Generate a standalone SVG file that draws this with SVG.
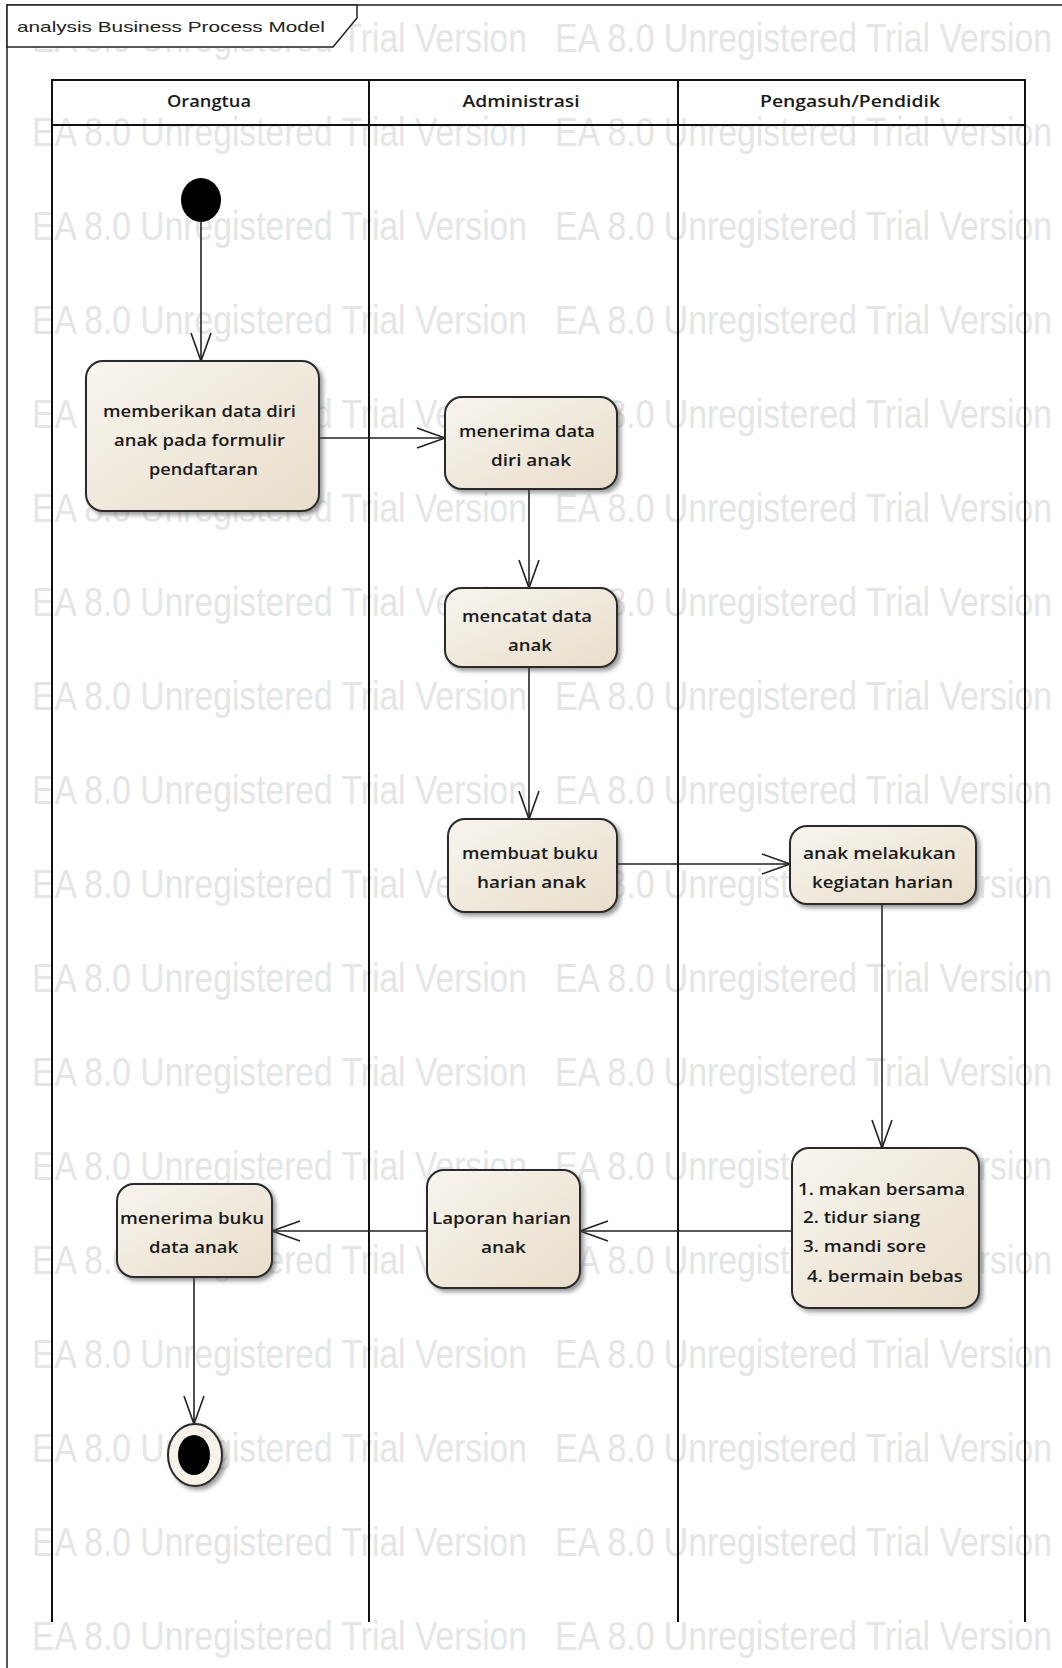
<svg xmlns="http://www.w3.org/2000/svg" width="1062" height="1668" viewBox="0 0 1062 1668">
<style>
.wm{font-family:"Liberation Sans","DejaVu Sans",sans-serif;font-size:41px;fill:#e5e5e5}
.lane{stroke:#111;stroke-width:2;fill:none}
.hdr{font-family:"Open Sans","Noto Sans",sans-serif;font-weight:600;font-size:16px;fill:#1a1a1a;text-anchor:middle}
.node rect{fill:url(#nodeGrad);stroke:#2a2a2a;stroke-width:2;filter:url(#shadow)}
.lbl{font-family:"Open Sans","Noto Sans",sans-serif;font-weight:600;font-size:17px;fill:#1a1a1a;text-anchor:middle}
.lbll{font-family:"Open Sans","Noto Sans",sans-serif;font-weight:600;font-size:17px;fill:#1a1a1a}
.conn line{stroke:#222;stroke-width:1.6;marker-end:url(#open)}
.title{font-family:"Liberation Sans","DejaVu Sans",sans-serif;font-size:15px;fill:#222}
</style>
<defs>
<linearGradient id="nodeGrad" x1="0" y1="0" x2="1" y2="1">
<stop offset="0" stop-color="#f8f5ef"/>
<stop offset="1" stop-color="#e8ddca"/>
</linearGradient>
<filter id="shadow" x="-10%" y="-10%" width="130%" height="130%">
<feDropShadow dx="3" dy="3" stdDeviation="2" flood-color="#444" flood-opacity="0.55"/>
</filter>
<marker id="open" markerUnits="userSpaceOnUse" markerWidth="34" markerHeight="26" refX="29" refY="11" orient="auto">
<path d="M1,1 L29,11 L1,21" fill="none" stroke="#222" stroke-width="1.6"/>
</marker>
</defs>
<rect width="1062" height="1668" fill="#fff"/>
<g id="watermark">
<text class="wm" x="32" y="52" textLength="495" lengthAdjust="spacingAndGlyphs">EA 8.0 Unregistered Trial Version</text>
<text class="wm" x="555" y="52" textLength="497" lengthAdjust="spacingAndGlyphs">EA 8.0 Unregistered Trial Version</text>
<text class="wm" x="32" y="146" textLength="495" lengthAdjust="spacingAndGlyphs">EA 8.0 Unregistered Trial Version</text>
<text class="wm" x="555" y="146" textLength="497" lengthAdjust="spacingAndGlyphs">EA 8.0 Unregistered Trial Version</text>
<text class="wm" x="32" y="240" textLength="495" lengthAdjust="spacingAndGlyphs">EA 8.0 Unregistered Trial Version</text>
<text class="wm" x="555" y="240" textLength="497" lengthAdjust="spacingAndGlyphs">EA 8.0 Unregistered Trial Version</text>
<text class="wm" x="32" y="334" textLength="495" lengthAdjust="spacingAndGlyphs">EA 8.0 Unregistered Trial Version</text>
<text class="wm" x="555" y="334" textLength="497" lengthAdjust="spacingAndGlyphs">EA 8.0 Unregistered Trial Version</text>
<text class="wm" x="32" y="428" textLength="495" lengthAdjust="spacingAndGlyphs">EA 8.0 Unregistered Trial Version</text>
<text class="wm" x="555" y="428" textLength="497" lengthAdjust="spacingAndGlyphs">EA 8.0 Unregistered Trial Version</text>
<text class="wm" x="32" y="522" textLength="495" lengthAdjust="spacingAndGlyphs">EA 8.0 Unregistered Trial Version</text>
<text class="wm" x="555" y="522" textLength="497" lengthAdjust="spacingAndGlyphs">EA 8.0 Unregistered Trial Version</text>
<text class="wm" x="32" y="616" textLength="495" lengthAdjust="spacingAndGlyphs">EA 8.0 Unregistered Trial Version</text>
<text class="wm" x="555" y="616" textLength="497" lengthAdjust="spacingAndGlyphs">EA 8.0 Unregistered Trial Version</text>
<text class="wm" x="32" y="710" textLength="495" lengthAdjust="spacingAndGlyphs">EA 8.0 Unregistered Trial Version</text>
<text class="wm" x="555" y="710" textLength="497" lengthAdjust="spacingAndGlyphs">EA 8.0 Unregistered Trial Version</text>
<text class="wm" x="32" y="804" textLength="495" lengthAdjust="spacingAndGlyphs">EA 8.0 Unregistered Trial Version</text>
<text class="wm" x="555" y="804" textLength="497" lengthAdjust="spacingAndGlyphs">EA 8.0 Unregistered Trial Version</text>
<text class="wm" x="32" y="898" textLength="495" lengthAdjust="spacingAndGlyphs">EA 8.0 Unregistered Trial Version</text>
<text class="wm" x="555" y="898" textLength="497" lengthAdjust="spacingAndGlyphs">EA 8.0 Unregistered Trial Version</text>
<text class="wm" x="32" y="992" textLength="495" lengthAdjust="spacingAndGlyphs">EA 8.0 Unregistered Trial Version</text>
<text class="wm" x="555" y="992" textLength="497" lengthAdjust="spacingAndGlyphs">EA 8.0 Unregistered Trial Version</text>
<text class="wm" x="32" y="1086" textLength="495" lengthAdjust="spacingAndGlyphs">EA 8.0 Unregistered Trial Version</text>
<text class="wm" x="555" y="1086" textLength="497" lengthAdjust="spacingAndGlyphs">EA 8.0 Unregistered Trial Version</text>
<text class="wm" x="32" y="1180" textLength="495" lengthAdjust="spacingAndGlyphs">EA 8.0 Unregistered Trial Version</text>
<text class="wm" x="555" y="1180" textLength="497" lengthAdjust="spacingAndGlyphs">EA 8.0 Unregistered Trial Version</text>
<text class="wm" x="32" y="1274" textLength="495" lengthAdjust="spacingAndGlyphs">EA 8.0 Unregistered Trial Version</text>
<text class="wm" x="555" y="1274" textLength="497" lengthAdjust="spacingAndGlyphs">EA 8.0 Unregistered Trial Version</text>
<text class="wm" x="32" y="1368" textLength="495" lengthAdjust="spacingAndGlyphs">EA 8.0 Unregistered Trial Version</text>
<text class="wm" x="555" y="1368" textLength="497" lengthAdjust="spacingAndGlyphs">EA 8.0 Unregistered Trial Version</text>
<text class="wm" x="32" y="1462" textLength="495" lengthAdjust="spacingAndGlyphs">EA 8.0 Unregistered Trial Version</text>
<text class="wm" x="555" y="1462" textLength="497" lengthAdjust="spacingAndGlyphs">EA 8.0 Unregistered Trial Version</text>
<text class="wm" x="32" y="1556" textLength="495" lengthAdjust="spacingAndGlyphs">EA 8.0 Unregistered Trial Version</text>
<text class="wm" x="555" y="1556" textLength="497" lengthAdjust="spacingAndGlyphs">EA 8.0 Unregistered Trial Version</text>
<text class="wm" x="32" y="1650" textLength="495" lengthAdjust="spacingAndGlyphs">EA 8.0 Unregistered Trial Version</text>
<text class="wm" x="555" y="1650" textLength="497" lengthAdjust="spacingAndGlyphs">EA 8.0 Unregistered Trial Version</text>
</g>
<g id="frame">
<path d="M7,1668 V5 H1062" fill="none" stroke="#222" stroke-width="1.5"/>
<path d="M7,5 H357 V18 L333,47 H7 Z" fill="#fff" stroke="#222" stroke-width="1.5"/>
<text class="title" x="17" y="32" textLength="308" lengthAdjust="spacingAndGlyphs">analysis Business Process Model</text>
</g>
<g id="lanes">
<path class="lane" d="M52,1622 V80 H1025 V1622 M369,80 V1622 M678,80 V1622 M52,125 H1025"/>
<text class="hdr" x="209" y="107" textLength="84" lengthAdjust="spacingAndGlyphs">Orangtua</text>
<text class="hdr" x="521" y="107" textLength="117" lengthAdjust="spacingAndGlyphs">Administrasi</text>
<text class="hdr" x="850" y="107" textLength="180" lengthAdjust="spacingAndGlyphs">Pengasuh/Pendidik</text>
</g>
<g id="connectors" class="conn">
<line x1="201" y1="222" x2="201" y2="361"/>
<line x1="319" y1="438" x2="445" y2="438"/>
<line x1="529" y1="489" x2="529" y2="588"/>
<line x1="529" y1="667" x2="529" y2="819"/>
<line x1="617" y1="864" x2="790" y2="864"/>
<line x1="882" y1="904" x2="882" y2="1148"/>
<line x1="792" y1="1231" x2="580" y2="1231"/>
<line x1="427" y1="1231" x2="272" y2="1231"/>
<line x1="194" y1="1277" x2="194" y2="1424"/>
</g>
<g id="start">
<ellipse cx="201" cy="200" rx="20" ry="22" fill="#000"/>
</g>
<g id="n1" class="node">
<rect x="86" y="361" width="233" height="150" rx="17"/>
<text class="lbl" x="199.5" y="417" textLength="193" lengthAdjust="spacingAndGlyphs">memberikan data diri</text>
<text class="lbl" x="199.5" y="446" textLength="171" lengthAdjust="spacingAndGlyphs">anak pada formulir</text>
<text class="lbl" x="203.5" y="475" textLength="109" lengthAdjust="spacingAndGlyphs">pendaftaran</text>
</g>
<g id="n2" class="node">
<rect x="445" y="397" width="172" height="92" rx="17"/>
<text class="lbl" x="527" y="437" textLength="136" lengthAdjust="spacingAndGlyphs">menerima data</text>
<text class="lbl" x="531" y="466" textLength="80" lengthAdjust="spacingAndGlyphs">diri anak</text>
</g>
<g id="n3" class="node">
<rect x="445" y="588" width="172" height="79" rx="17"/>
<text class="lbl" x="527" y="622" textLength="130" lengthAdjust="spacingAndGlyphs">mencatat data</text>
<text class="lbl" x="530" y="651" textLength="44" lengthAdjust="spacingAndGlyphs">anak</text>
</g>
<g id="n4" class="node">
<rect x="448" y="819" width="169" height="93" rx="17"/>
<text class="lbl" x="530" y="859" textLength="136" lengthAdjust="spacingAndGlyphs">membuat buku</text>
<text class="lbl" x="531.5" y="888" textLength="109" lengthAdjust="spacingAndGlyphs">harian anak</text>
</g>
<g id="n5" class="node">
<rect x="790" y="826" width="186" height="78" rx="17"/>
<text class="lbl" x="879.5" y="859" textLength="153" lengthAdjust="spacingAndGlyphs">anak melakukan</text>
<text class="lbl" x="882.5" y="888" textLength="141" lengthAdjust="spacingAndGlyphs">kegiatan harian</text>
</g>
<g id="n6" class="node">
<rect x="792" y="1148" width="187" height="160" rx="17"/>
<text class="lbll" x="798" y="1195" textLength="167" lengthAdjust="spacingAndGlyphs">1. makan bersama</text>
<text class="lbll" x="803" y="1223" textLength="117" lengthAdjust="spacingAndGlyphs">2. tidur siang</text>
<text class="lbll" x="803" y="1252" textLength="123" lengthAdjust="spacingAndGlyphs">3. mandi sore</text>
<text class="lbll" x="807" y="1282" textLength="156" lengthAdjust="spacingAndGlyphs">4. bermain bebas</text>
</g>
<g id="n7" class="node">
<rect x="427" y="1170" width="153" height="118" rx="17"/>
<text class="lbl" x="501.5" y="1224" textLength="139" lengthAdjust="spacingAndGlyphs">Laporan harian</text>
<text class="lbl" x="503.5" y="1253" textLength="45" lengthAdjust="spacingAndGlyphs">anak</text>
</g>
<g id="n8" class="node">
<rect x="117" y="1184" width="155" height="93" rx="17"/>
<text class="lbl" x="192" y="1224" textLength="144" lengthAdjust="spacingAndGlyphs">menerima buku</text>
<text class="lbl" x="193.5" y="1253" textLength="89" lengthAdjust="spacingAndGlyphs">data anak</text>
</g>
<g id="end">
<ellipse cx="195" cy="1455" rx="27" ry="31" fill="#f6f1e9" stroke="#2a2a2a" stroke-width="2" filter="url(#shadow)"/>
<ellipse cx="194" cy="1455" rx="16" ry="20" fill="#000"/>
</g>
</svg>
